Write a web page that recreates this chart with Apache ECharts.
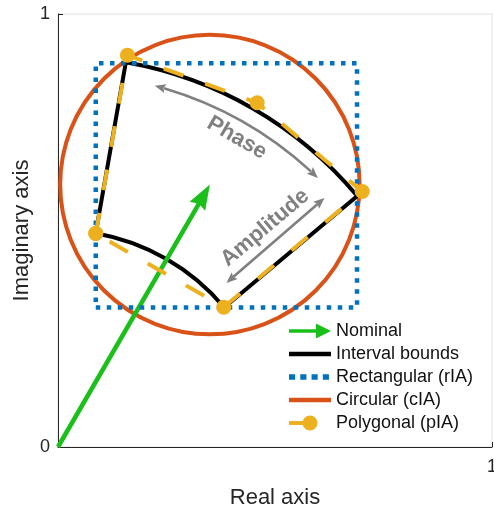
<!DOCTYPE html>
<html><head><meta charset="utf-8">
<script src="https://cdn.jsdelivr.net/npm/echarts@6/dist/echarts.min.js"></script>
<style>html,body{margin:0;padding:0;background:#fff}#c{width:494px;height:509px}</style>
</head><body><div id="c"></div>
<script>
// ---- data ----
const axisRange = [0, 1];
const nominalTip = [0.35, 0.606];          // nominal phasor end point (Re, Im)
const amplitudeBounds = [0.5, 0.9];        // interval amplitude bounds
const phaseBoundsDeg = [40, 80];           // interval phase bounds (degrees)
const rectX = [0.087, 0.689];              // rectangular enclosure, real range
const rectY = [0.322, 0.886];              // rectangular enclosure, imag range
const circleCenter = [0.35, 0.606];
const circleRadius = [0.345];
const polyX = [0.087, 0.160, 0.459, 0.701, 0.382, 0.087];
const polyY = [0.493, 0.905, 0.795, 0.590, 0.323, 0.493];
const phaseArrowRadius = [0.862];
const phaseArrowDeg = [46, 75];
const ampArrowStart = [0.388, 0.379];
const ampArrowEnd = [0.614, 0.575];
const noteTexts = ['Phase', 'Amplitude'];
const noteX = [0.412, 0.477];
const noteY = [0.714, 0.506];
const noteRotateDeg = [-30, 40];
const legendNames = ['Nominal', 'Interval bounds', 'Rectangular (rIA)', 'Circular (cIA)', 'Polygonal (pIA)'];

const FONT = '"Liberation Sans", Arial, Helvetica, sans-serif';
const GREEN = '#1ABF1A', BLACK = '#000000', BLUE = '#0072BD', ORANGE = '#D95319', YELLOW = '#EDB120', GRAY = '#808080';

const rectData = [[rectX[0], rectY[0]], [rectX[1], rectY[0]], [rectX[1], rectY[1]], [rectX[0], rectY[1]], [rectX[0], rectY[0]]];
const polyData = polyX.map((x, i) => [x, polyY[i]]);

function arrowHead(tip, base, hw, notch) {
  const dx = tip[0] - base[0], dy = tip[1] - base[1];
  const L = Math.hypot(dx, dy), ux = dx / L, uy = dy / L, nx = -uy, ny = ux;
  return {
    type: 'polygon',
    shape: { points: [tip, [base[0] + nx * hw, base[1] + ny * hw], [base[0] + ux * notch, base[1] + uy * notch], [base[0] - nx * hw, base[1] - ny * hw]] },
    style: { fill: GRAY }
  };
}

function renderInterval(params, api) {
  const o = api.coord([0, 0]);
  const r0 = api.size([amplitudeBounds[0], 0])[0];
  const r1 = api.size([amplitudeBounds[1], 0])[0];
  return {
    type: 'sector',
    shape: { cx: o[0], cy: o[1], r0: r0, r: r1, startAngle: -phaseBoundsDeg[1] * Math.PI / 180, endAngle: -phaseBoundsDeg[0] * Math.PI / 180, clockwise: true },
    style: { fill: 'none', stroke: BLACK, lineWidth: 4, lineJoin: 'miter' }
  };
}

function renderCircle(params, api) {
  const c = api.coord([api.value(0), api.value(1)]);
  const r = api.size([api.value(2), 0])[0];
  return { type: 'circle', shape: { cx: c[0], cy: c[1], r: r }, style: { fill: 'none', stroke: ORANGE, lineWidth: 4 } };
}

function renderNominal(params, api) {
  const o = api.coord([0, 0]);
  const t = api.coord([api.value(0), api.value(1)]);
  const dx = t[0] - o[0], dy = t[1] - o[1], L = Math.hypot(dx, dy);
  const ux = dx / L, uy = dy / L, nx = -uy, ny = ux;
  const hl = 25, hw = 9, notch = 3;
  const bx = t[0] - ux * hl, by = t[1] - uy * hl;
  const mx = bx + ux * notch, my = by + uy * notch;
  return {
    type: 'group', children: [
      { type: 'line', shape: { x1: o[0], y1: o[1], x2: mx + ux, y2: my + uy }, style: { stroke: GREEN, lineWidth: 4.5 } },
      { type: 'polygon', shape: { points: [[t[0], t[1]], [bx + nx * hw, by + ny * hw], [mx, my], [bx - nx * hw, by - ny * hw]] }, style: { fill: GREEN } }
    ]
  };
}

function renderNotes(params, api) {
  const o = api.coord([0, 0]);
  const R = api.size([phaseArrowRadius[0], 0])[0];
  const a1 = phaseArrowDeg[0] * Math.PI / 180, a2 = phaseArrowDeg[1] * Math.PI / 180;
  const hl = 11, hw = 4.5, d = hl / R;
  const pt = a => [o[0] + R * Math.cos(a), o[1] - R * Math.sin(a)];
  const children = [];
  children.push({ type: 'arc', shape: { cx: o[0], cy: o[1], r: R, startAngle: -(a2 - d + 0.004), endAngle: -(a1 + d - 0.004), clockwise: true }, style: { fill: 'none', stroke: GRAY, lineWidth: 2.6 } });
  children.push(arrowHead(pt(a1), pt(a1 + d), hw, 2));
  children.push(arrowHead(pt(a2), pt(a2 - d), hw, 2));
  const A = api.coord(ampArrowStart), B = api.coord(ampArrowEnd);
  const dx = B[0] - A[0], dy = B[1] - A[1], L = Math.hypot(dx, dy), ux = dx / L, uy = dy / L;
  children.push({ type: 'line', shape: { x1: A[0] + ux * (hl - 2), y1: A[1] + uy * (hl - 2), x2: B[0] - ux * (hl - 2), y2: B[1] - uy * (hl - 2) }, style: { stroke: GRAY, lineWidth: 2.6 } });
  children.push(arrowHead(A, [A[0] + ux * hl, A[1] + uy * hl], hw, 2));
  children.push(arrowHead(B, [B[0] - ux * hl, B[1] - uy * hl], hw, 2));
  noteTexts.forEach((txt, i) => {
    const p = api.coord([noteX[i], noteY[i]]);
    children.push({
      type: 'text', x: p[0], y: p[1], rotation: noteRotateDeg[i] * Math.PI / 180,
      style: { text: txt, fill: GRAY, font: 'bold 22px ' + FONT, align: 'center', verticalAlign: 'middle' }
    });
  });
  return { type: 'group', children: children };
}

const axisCommon = {
  type: 'value', min: axisRange[0], max: axisRange[1], interval: 1,
  splitLine: { show: false },
  axisLine: { show: true, lineStyle: { color: '#262626', width: 1 } },
  axisTick: { show: true, inside: true, length: 5, lineStyle: { color: '#262626' } },
  nameLocation: 'middle', nameMoveOverlap: false,
  nameTextStyle: { fontSize: 22, color: '#262626', fontFamily: FONT }
};

const option = {
  animation: false,
  backgroundColor: '#ffffff',
  textStyle: { fontFamily: FONT },
  grid: { left: 58, right: 2, top: 14, bottom: 62, show: true, borderColor: '#e2e2e2', borderWidth: 1, backgroundColor: 'transparent', containLabel: false, outerBoundsMode: 'none' },
  xAxis: Object.assign({}, axisCommon, {
    name: 'Real axis', nameGap: 40,
    axisLabel: { showMinLabel: false, fontSize: 18, color: '#262626', margin: 11, fontFamily: FONT }
  }),
  yAxis: Object.assign({}, axisCommon, {
    name: 'Imaginary axis', nameGap: 25,
    axisLabel: { fontSize: 18, color: '#262626', margin: 8, fontFamily: FONT }
  }),
  legend: {
    orient: 'vertical', left: 289, top: 322, padding: 0, itemWidth: 42, itemHeight: 16, itemGap: 5,
    selectedMode: false,
    textStyle: { fontSize: 18, color: '#111111', lineHeight: 16, fontFamily: FONT },
    data: [
      { name: legendNames[0], icon: 'path://M0,6.2 L27,6.2 L27,0.5 L42,8 L27,15.5 L27,9.8 L0,9.8 Z', itemStyle: { color: GREEN, borderWidth: 0 } },
      { name: legendNames[1], icon: 'path://M0,0 L42,0 L42,4.5 L0,4.5 Z', itemStyle: { color: BLACK, borderWidth: 0 } },
      { name: legendNames[2], icon: 'path://M0,0 h6 v5.5 h-6 Z M11,0 h6 v5.5 h-6 Z M22,0 h6 v5.5 h-6 Z M33,0 h6 v5.5 h-6 Z M41,2.75 L41,2.75', itemStyle: { color: BLUE, borderWidth: 0 } },
      { name: legendNames[3], icon: 'path://M0,0 L42,0 L42,4.5 L0,4.5 Z', itemStyle: { color: ORANGE, borderWidth: 0 } },
      { name: legendNames[4], icon: 'path://M0,6 L22,6 L22,10 L0,10 Z M28.5,8 A7.5,7.5 0 1 1 13.5,8 A7.5,7.5 0 1 1 28.5,8 Z M42,8 L42,8', itemStyle: { color: YELLOW, borderWidth: 0 } }
    ]
  },
  series: [
    {
      name: legendNames[2], type: 'line', data: rectData, symbol: 'none', silent: true,
      itemStyle: { color: BLUE },
      lineStyle: { color: BLUE, width: 4.5, type: [4.5, 6.5], cap: 'butt' }
    },
    {
      name: legendNames[3], type: 'custom', renderItem: renderCircle, silent: true,
      itemStyle: { color: ORANGE },
      data: [[circleCenter[0], circleCenter[1], circleRadius[0]]]
    },
    {
      name: legendNames[1], type: 'custom', renderItem: renderInterval, silent: true,
      itemStyle: { color: BLACK },
      data: [[0, 0]]
    },
    {
      name: legendNames[4], type: 'line', data: polyData, symbol: 'circle', symbolSize: 15, showAllSymbol: true, silent: true,
      itemStyle: { color: YELLOW, borderWidth: 0 },
      lineStyle: { color: YELLOW, width: 4, type: [21, 23], cap: 'butt' }
    },
    {
      name: 'Annotations', type: 'custom', renderItem: renderNotes, silent: true,
      itemStyle: { color: GRAY },
      data: [[0, 0]]
    },
    {
      name: legendNames[0], type: 'custom', renderItem: renderNominal, silent: true,
      itemStyle: { color: GREEN },
      data: [nominalTip]
    }
  ]
};

const chart = echarts.init(document.getElementById('c'), null, { renderer: 'canvas' });
chart.setOption(option);
</script>
</body></html>
